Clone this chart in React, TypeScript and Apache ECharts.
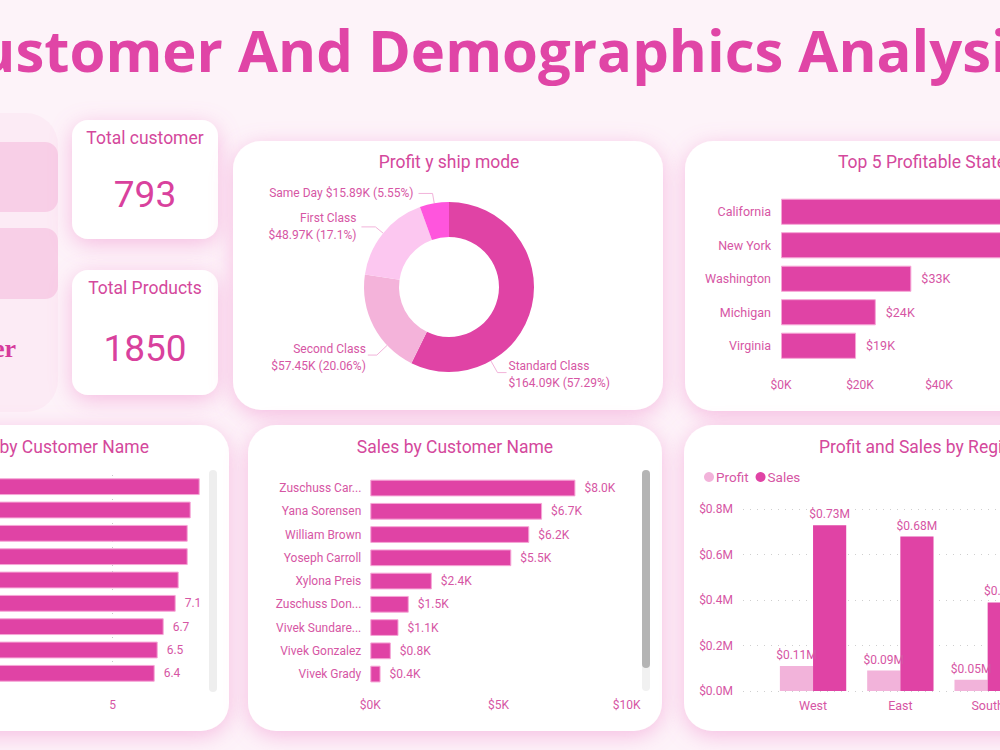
import React, { useEffect, useRef } from "react";
import * as echarts from "echarts";

// ---- data ----
const shipModes = ["Standard Class", "Second Class", "First Class", "Same Day"];
const shipProfitK = [164.09, 57.45, 48.97, 15.89];

const states = ["California", "New York", "Washington", "Michigan", "Virginia"];
const stateProfit = [76000, 74000, 33000, 24000, 19000];

const qtyCustomers = [
  "Jenna Caffey",
  "Erica Hackney",
  "Dave Poirier",
  "Liz MacKendrick",
  "Andy Gerbode",
  "Chad Cunningham",
  "Guy Armstrong",
  "Jim Kriz",
  "Ken Heidel",
];
const qtyValues = [7.9, 7.6, 7.5, 7.5, 7.2, 7.1, 6.7, 6.5, 6.4];

const salesCustomers = [
  "Zuschuss Carroll",
  "Yana Sorensen",
  "William Brown",
  "Yoseph Carroll",
  "Xylona Preis",
  "Zuschuss Donatelli",
  "Vivek Sundaresan",
  "Vivek Gonzalez",
  "Vivek Grady",
];
const salesValues = [8000, 6700, 6200, 5500, 2400, 1500, 1100, 800, 400];

const regions = ["West", "East", "South", "Central"];
const regionProfit = [110000, 90000, 50000, 40000];
const regionSales = [730000, 680000, 390000, 500000];

// ---- styles ----
const PINK = "#e043a5";
const LIGHT_PINK = "#f2b3da";
const TEXT = "#d656a4";
const TITLE = "#d4489c";
const FONT = "Roboto, 'Noto Sans', sans-serif";
const shipColors = [PINK, "#f4b3da", "#fcc7f0", "#ff55dd"];
const PIE_CENTER = [449, 287];
const PIE_OUTER = 85;
// per-slice nudges for the donut's outside labels
const shipLabelShift = [
  { dx: -52, dy: 66 },
  { dx: 20, dy: 26 },
  { dx: 0, dy: 0 },
  { dx: 0, dy: 0 },
];

const cardShadow = {
  shadowBlur: 22,
  shadowColor: "rgba(236, 120, 195, 0.45)",
  shadowOffsetY: 5,
};

function card(x: number, y: number, w: number, h: number, r: number) {
  return {
    type: "rect",
    shape: { x, y, width: w, height: h, r },
    style: { fill: "#ffffff", ...cardShadow },
    z: 0,
  };
}

function label(
  text: string,
  x: number,
  y: number,
  size: number,
  color: string,
  align: string = "center",
  family: string = FONT,
  weight: string = "normal"
) {
  return {
    type: "text",
    x,
    y,
    z: 1,
    style: {
      text,
      fill: color,
      fontSize: size,
      fontFamily: family,
      fontWeight: weight,
      align,
      verticalAlign: "middle",
      textAlign: align,
      textVerticalAlign: "middle",
    },
  };
}

const axisText = { color: TEXT, fontSize: 12, fontFamily: FONT };

// moves a donut label and rebuilds its leader line: a short horizontal tail
// next to the text, then a slanted segment back to the ring's outer edge
function shipLabelLayout(p: any) {
  const s = shipLabelShift[p.dataIndex];
  if (!s.dx && !s.dy) return {};
  const r = p.labelRect;
  const onRight = p.align !== "right";
  const ax = (onRight ? r.x : r.x + r.width) + s.dx;
  const ay = r.y + r.height / 2 + s.dy;
  const dir = onRight ? -1 : 1;
  const p2 = [ax + dir * 2, ay - 2];
  const p1 = [p2[0] + dir * 9, p2[1]];
  const vx = p1[0] - PIE_CENTER[0];
  const vy = p1[1] - PIE_CENTER[1];
  const len = Math.sqrt(vx * vx + vy * vy);
  const p0 = [
    PIE_CENTER[0] + (vx / len) * PIE_OUTER,
    PIE_CENTER[1] + (vy / len) * PIE_OUTER,
  ];
  return { x: ax, y: ay, labelLinePoints: [p0, p1, p2] };
}

export default function App() {
  const ref = useRef<HTMLDivElement>(null);

  useEffect(() => {
    if (!ref.current) return;
    const chart = echarts.init(ref.current, undefined, { renderer: "svg" });

    const option: any = {
      animation: false,
      backgroundColor: "#fdf3f9",
      textStyle: { fontFamily: FONT },
      graphic: [
        // page title
        label(
          "Customer And Demographics Analysis",
          489,
          49,
          58,
          "#e045a6",
          "center",
          "'Open Sans', sans-serif",
          "bold"
        ),
        // navigation panel on the left
        {
          type: "rect",
          shape: { x: -60, y: 113, width: 118, height: 299, r: 32 },
          style: { fill: "#fcebf5" },
        },
        {
          type: "rect",
          shape: { x: -60, y: 142, width: 118, height: 70, r: 13 },
          style: { fill: "#f8cfe7" },
        },
        {
          type: "rect",
          shape: { x: -60, y: 228, width: 118, height: 71, r: 13 },
          style: { fill: "#f8cfe7" },
        },
        label("er", -7, 348, 26, "#d63a9c", "left", "'Liberation Serif', serif", "bold"),

        // KPI cards
        card(72, 120, 146, 119, 16),
        label("Total customer", 145, 138, 17.5, TITLE),
        label("793", 145, 194, 37, "#d9419d"),
        card(72, 270, 146, 125, 16),
        label("Total Products", 145, 288, 17.5, TITLE),
        label("1850", 145, 348, 37, "#d9419d"),

        // chart cards
        card(233, 141, 430, 269, 28),
        label("Profit y ship mode", 449, 162, 17.5, TITLE),
        card(685, 141, 420, 270, 28),
        label("Top 5 Profitable States", 838, 162, 17.5, TITLE, "left"),
        card(-200, 425, 429, 306, 28),
        label("Quantity by Customer Name", 149, 447, 17.5, TITLE, "right"),
        card(248, 425, 414, 306, 28),
        label("Sales by Customer Name", 455, 447, 17.5, TITLE),
        card(684, 425, 420, 306, 28),
        label("Profit and Sales by Region", 819, 447, 17.5, TITLE, "left"),

        // scrollbars
        {
          type: "rect",
          shape: { x: 209, y: 470, width: 8, height: 222, r: 4 },
          style: { fill: "#eeeeee" },
          z: 1,
        },
        {
          type: "rect",
          shape: { x: 642, y: 470, width: 8, height: 221, r: 4 },
          style: { fill: "#f1f1f1" },
          z: 1,
        },
        {
          type: "rect",
          shape: { x: 642, y: 470, width: 8, height: 198, r: 4 },
          style: { fill: "#b4b4b4" },
          z: 2,
        },
      ],
      legend: {
        data: ["Profit", "Sales"],
        left: 699,
        top: 465,
        icon: "circle",
        itemWidth: 10,
        itemHeight: 10,
        itemGap: 7,
        textStyle: {
          color: TEXT,
          fontSize: 13.5,
          fontFamily: FONT,
          padding: [0, 0, 0, -3],
        },
      },
      grid: [
        { left: 781, top: 195, width: 316, height: 167.5, outerBoundsMode: "none" },
        { left: -37.3, top: 475, width: 240, height: 210, outerBoundsMode: "none" },
        { left: 370.3, top: 476.4, width: 256.4, height: 209.3, outerBoundsMode: "none" },
        { left: 769.4, top: 509.3, width: 349.2, height: 181.7, outerBoundsMode: "none" },
        { left: 743, top: 509.3, width: 400, height: 181.7, outerBoundsMode: "none" },
      ],
      xAxis: [
        {
          gridIndex: 0,
          type: "value",
          min: 0,
          max: 80000,
          interval: 20000,
          axisLine: { show: false },
          axisTick: { show: false },
          splitLine: { show: false },
          axisLabel: {
            ...axisText,
            margin: 16,
            // ticks past $40K fall beyond the page edge
            formatter: (v: number) => (v <= 40000 ? `$${v / 1000}K` : ""),
          },
        },
        {
          gridIndex: 1,
          type: "value",
          min: 0,
          max: 8,
          interval: 5,
          axisLine: { show: false },
          axisTick: { show: false },
          splitLine: {
            show: true,
            showMinLine: false,
            showMaxLine: false,
            lineStyle: { type: [1, 5], color: "#c8c8c8" },
          },
          axisLabel: {
            ...axisText,
            margin: 14,
            showMinLabel: false,
            showMaxLabel: false,
          },
        },
        {
          gridIndex: 2,
          type: "value",
          min: 0,
          max: 10000,
          interval: 5000,
          axisLine: { show: false },
          axisTick: { show: false },
          splitLine: { show: false },
          axisLabel: {
            ...axisText,
            margin: 13,
            formatter: (v: number) => `$${v / 1000}K`,
          },
        },
        {
          gridIndex: 3,
          type: "category",
          data: regions,
          axisLine: { show: false },
          axisTick: { show: false },
          axisLabel: {
            ...axisText,
            fontSize: 12.5,
            margin: 8,
            interval: (i: number) => i < 3,
          },
        },
        { gridIndex: 4, type: "value", min: 0, max: 1, show: false },
      ],
      yAxis: [
        {
          gridIndex: 0,
          type: "category",
          data: states,
          inverse: true,
          axisLine: { show: false },
          axisTick: { show: false },
          axisLabel: { ...axisText, fontSize: 12.5, margin: 10 },
        },
        {
          gridIndex: 1,
          type: "category",
          data: qtyCustomers,
          inverse: true,
          axisLine: { show: false },
          axisTick: { show: false },
          axisLabel: { show: false },
        },
        {
          gridIndex: 2,
          type: "category",
          data: salesCustomers,
          inverse: true,
          axisLine: { show: false },
          axisTick: { show: false },
          axisLabel: {
            ...axisText,
            margin: 9,
            width: 88,
            overflow: "truncate",
            ellipsis: "...",
          },
        },
        {
          gridIndex: 3,
          type: "value",
          min: 0,
          max: 800000,
          interval: 200000,
          show: false,
        },
        {
          gridIndex: 4,
          type: "value",
          min: 0,
          max: 800000,
          interval: 200000,
          axisLine: { show: false },
          axisTick: { show: false },
          splitLine: { lineStyle: { type: [1, 6], color: "#cfcfcf" } },
          axisLabel: {
            ...axisText,
            margin: 10,
            formatter: (v: number) => `$${(v / 1e6).toFixed(1)}M`,
          },
        },
      ],
      series: [
        {
          type: "pie",
          center: PIE_CENTER,
          radius: [50, PIE_OUTER],
          startAngle: 90,
          clockwise: true,
          avoidLabelOverlap: true,
          data: shipModes.map((name, i) => ({
            name,
            value: shipProfitK[i],
            itemStyle: { color: shipColors[i] },
          })),
          label: {
            color: TEXT,
            fontSize: 12,
            fontFamily: FONT,
            lineHeight: 17,
            formatter: (p: any) => {
              const val = `$${p.value.toFixed(2)}K (${p.percent}%)`;
              return p.name === "Same Day" ? `${p.name} ${val}` : `${p.name}\n${val}`;
            },
          },
          labelLayout: shipLabelLayout,
          labelLine: {
            length: 10,
            length2: 14,
            lineStyle: { color: LIGHT_PINK, width: 1 },
          },
        },
        {
          type: "bar",
          xAxisIndex: 0,
          yAxisIndex: 0,
          // the two longest bars run past the page edge, so their labels stay off
          data: stateProfit.map((v, i) => ({ value: v, label: { show: i >= 2 } })),
          barCategoryGap: "22%",
          itemStyle: { color: PINK, borderColor: "#f6a6d6", borderWidth: 1 },
          label: {
            position: "right",
            distance: 10,
            color: TEXT,
            fontSize: 12.5,
            fontFamily: FONT,
            formatter: (p: any) => `$${Math.round(p.value / 1000)}K`,
          },
        },
        {
          type: "bar",
          xAxisIndex: 1,
          yAxisIndex: 1,
          data: qtyValues.map((v, i) => ({ value: v, label: { show: i >= 5 } })),
          barCategoryGap: "28%",
          itemStyle: { color: PINK, borderColor: "#f6a6d6", borderWidth: 1 },
          label: {
            position: "right",
            distance: 9,
            color: TEXT,
            fontSize: 12,
            fontFamily: FONT,
          },
        },
        {
          type: "bar",
          xAxisIndex: 2,
          yAxisIndex: 2,
          data: salesValues,
          barCategoryGap: "28%",
          itemStyle: { color: PINK, borderColor: "#f6a6d6", borderWidth: 1 },
          label: {
            show: true,
            position: "right",
            distance: 9,
            color: TEXT,
            fontSize: 12,
            fontFamily: FONT,
            formatter: (p: any) => `$${(p.value / 1000).toFixed(1)}K`,
          },
        },
        {
          name: "Profit",
          type: "bar",
          xAxisIndex: 3,
          yAxisIndex: 3,
          data: regionProfit.map((v, i) => ({ value: v, label: { show: i < 3 } })),
          barGap: "0%",
          barCategoryGap: "24%",
          itemStyle: { color: LIGHT_PINK },
          label: {
            position: "top",
            distance: 5,
            color: TEXT,
            fontSize: 12,
            fontFamily: FONT,
            formatter: (p: any) => `$${(p.value / 1e6).toFixed(2)}M`,
          },
        },
        {
          name: "Sales",
          type: "bar",
          xAxisIndex: 3,
          yAxisIndex: 3,
          data: regionSales.map((v, i) => ({ value: v, label: { show: i < 3 } })),
          barGap: "0%",
          barCategoryGap: "24%",
          itemStyle: { color: PINK },
          label: {
            position: "top",
            distance: 5,
            color: TEXT,
            fontSize: 12,
            fontFamily: FONT,
            formatter: (p: any) => `$${(p.value / 1e6).toFixed(2)}M`,
          },
        },
      ],
    };

    chart.setOption(option);
    return () => chart.dispose();
  }, []);

  return (
    <div
      ref={ref}
      style={{
        position: "fixed",
        left: 0,
        top: 0,
        width: 1000,
        height: 750,
        overflow: "hidden",
      }}
    />
  );
}
